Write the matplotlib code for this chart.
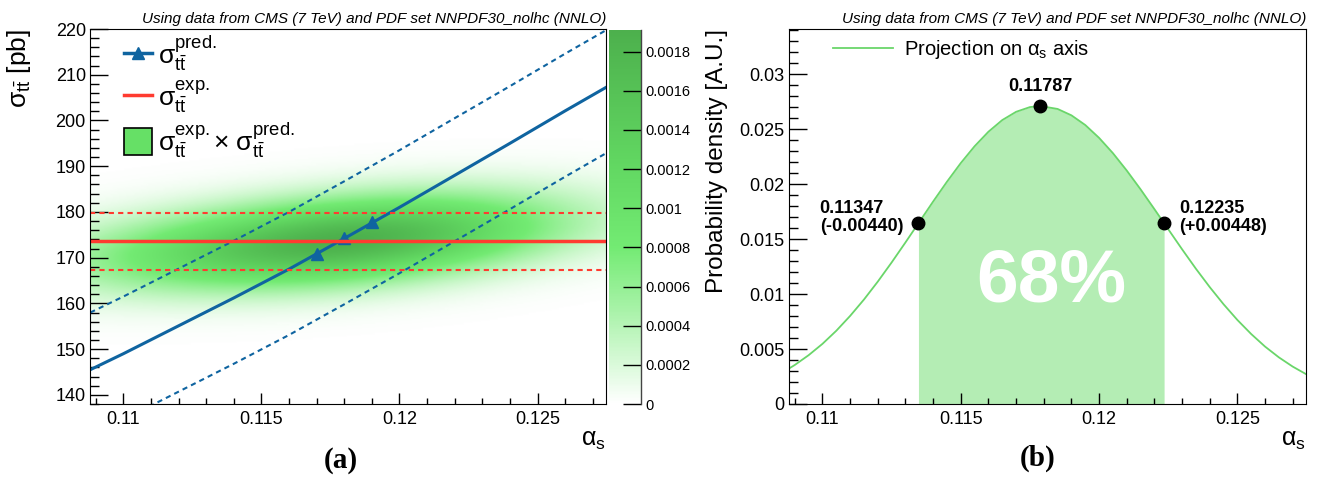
import numpy as np
import matplotlib
matplotlib.use("Agg")
import matplotlib.pyplot as plt
from matplotlib.colors import LinearSegmentedColormap
from matplotlib.lines import Line2D
from matplotlib.patches import Patch
from matplotlib.ticker import MultipleLocator, FormatStrFormatter

plt.rcParams['font.family'] = ['Liberation Sans', 'DejaVu Sans']
plt.rcParams['mathtext.fontset'] = 'custom'
plt.rcParams['mathtext.rm'] = 'Liberation Sans'
plt.rcParams['mathtext.it'] = 'Liberation Sans:italic'
plt.rcParams['mathtext.bf'] = 'Liberation Sans:bold'

# --- data ---
xlim = (0.10879, 0.12748)

# predicted ttbar cross section vs alpha_s (central and band edges)
alpha_pred = [0.1088, 0.110, 0.112, 0.114, 0.116, 0.118, 0.120, 0.122, 0.124, 0.126, 0.1275]
sig_pred = [145.5, 149.0, 155.1, 161.2, 167.5, 174.2, 181.0, 188.0, 195.0, 202.1, 207.3]
sig_pred_up = [158.0, 161.5, 167.6, 173.7, 180.0, 186.7, 193.5, 200.5, 207.5, 214.6, 219.8]
sig_pred_dn = [131.1, 134.6, 140.7, 146.8, 153.1, 159.8, 166.6, 173.6, 180.6, 187.7, 192.9]
alpha_markers = [0.117, 0.118, 0.119]
sig_markers = [170.9, 174.2, 177.7]

# measured cross section
sig_exp = 173.6
sig_exp_up = 179.7
sig_exp_dn = 167.4
z_max = 0.00191  # peak of the joint density

# projection on alpha_s
alpha_proj = [0.1088, 0.109, 0.1095, 0.110, 0.1105, 0.111, 0.1115, 0.112, 0.1125, 0.113,
              0.11347, 0.114, 0.1145, 0.115, 0.1155, 0.116, 0.1165, 0.117, 0.1175, 0.11787,
              0.1185, 0.119, 0.1195, 0.120, 0.1205, 0.121, 0.1215, 0.122, 0.12235, 0.123,
              0.1235, 0.124, 0.1245, 0.125, 0.1255, 0.126, 0.1265, 0.127, 0.1275]
dens_proj = [0.00324, 0.00355, 0.00444, 0.00547, 0.00666, 0.00801, 0.00950, 0.01113, 0.01287, 0.01469,
             0.01644, 0.01841, 0.02021, 0.02191, 0.02344, 0.02476, 0.02582, 0.02657, 0.02700, 0.02710,
             0.02683, 0.02625, 0.02537, 0.02420, 0.02281, 0.02123, 0.01952, 0.01772, 0.01644, 0.01407,
             0.01230, 0.01063, 0.00907, 0.00764, 0.00636, 0.00522, 0.00424, 0.00340, 0.00269]
alpha_best = 0.11787
alpha_lo = 0.11347
alpha_hi = 0.12235
dens_best = 0.02710
dens_edge = 0.01644

title_txt = "Using data from CMS (7 TeV) and PDF set NNPDF30_nolhc (NNLO)"

blue = '#0f64a0'
red = '#ff3b30'
green_line = '#6ad66a'
green_fill = '#b4edb4'

fig = plt.figure(figsize=(13.17, 4.78), dpi=100)
W, H = 1317, 478
ax1 = fig.add_axes([90 / W, 1 - 404 / H, 516 / W, 375 / H])
cax = fig.add_axes([609 / W, 1 - 404 / H, 32 / W, 374 / H])
ax2 = fig.add_axes([789 / W, 1 - 404 / H, 517 / W, 375 / H])


def style_axis(ax):
    ax.xaxis.set_major_locator(MultipleLocator(0.005))
    ax.xaxis.set_minor_locator(MultipleLocator(0.001))
    ax.xaxis.set_major_formatter(FormatStrFormatter('%g'))
    ax.tick_params(which='both', direction='in', top=False, right=False, labelsize=13)
    ax.tick_params(axis='x', which='major', length=8, width=1, pad=5)
    ax.tick_params(axis='x', which='minor', length=4, width=1)
    ax.tick_params(axis='y', which='major', length=13, width=1, pad=3)
    ax.tick_params(axis='y', which='minor', length=6.5, width=1)
    ax.set_title(title_txt, loc='right', fontstyle='italic', fontsize=11, pad=4)
    ax.set_xlabel(r"α$_\mathrm{s}$", loc='right', fontsize=18, labelpad=0)


# ---------- left panel ----------
cmap = LinearSegmentedColormap.from_list('grn', [
    (0.0, (1.0, 1.0, 1.0)),
    (0.1, (0.86, 0.98, 0.86)),
    (0.25, (0.66, 0.95, 0.66)),
    (0.42, (0.45, 0.92, 0.45)),
    (0.65, (0.38, 0.84, 0.38)),
    (1.0, (0.30, 0.69, 0.30))])

ag = np.linspace(xlim[0], xlim[1], 300)
sg = np.linspace(138, 220, 300)
A, S = np.meshgrid(ag, sg)
pc = np.interp(A, alpha_pred, sig_pred)
pw = 1.25 * (np.interp(A, alpha_pred, sig_pred_up) - np.interp(A, alpha_pred, sig_pred_dn)) / 2
ew = 1.1 * (sig_exp_up - sig_exp_dn) / 2
Z = np.exp(-(S - sig_exp) ** 2 / (2 * ew ** 2)) * np.exp(-(S - pc) ** 2 / (2 * pw ** 2))
Z = Z / Z.max() * z_max
im = ax1.imshow(Z, origin='lower', extent=[xlim[0], xlim[1], 138, 220], aspect='auto',
                cmap=cmap, vmin=0, vmax=z_max, interpolation='bilinear')

ax1.plot(alpha_pred, sig_pred, color=blue, lw=2.2)
ax1.plot(alpha_pred, sig_pred_up, color=blue, lw=1.5, ls=(0, (2.5, 2)))
ax1.plot(alpha_pred, sig_pred_dn, color=blue, lw=1.5, ls=(0, (2.5, 2)))
ax1.plot(alpha_markers, sig_markers, ls='none', marker='^', ms=8, color=blue)
ax1.axhline(sig_exp, color=red, lw=2.5)
ax1.axhline(sig_exp_up, color=red, lw=1.5, ls=(0, (2.5, 2)))
ax1.axhline(sig_exp_dn, color=red, lw=1.5, ls=(0, (2.5, 2)))

ax1.set_xlim(*xlim)
ax1.set_ylim(138, 220)
ax1.yaxis.set_major_locator(MultipleLocator(10))
ax1.yaxis.set_minor_locator(MultipleLocator(2))
style_axis(ax1)
ax1.set_ylabel(r"σ$_{\mathrm{t\bar{t}}}$ [pb]", loc='top', fontsize=19, labelpad=16)

leg_handles = [
    Line2D([0], [0], color=blue, lw=2.5, marker='^', ms=8),
    Line2D([0], [0], color=red, lw=2.5),
    Patch(facecolor='#66e066', edgecolor='black', lw=1.2),
]
leg_labels = [
    r"σ$_{\mathrm{t\bar{t}}}^{\mathrm{pred.}}$",
    r"σ$_{\mathrm{t\bar{t}}}^{\mathrm{exp.}}$",
    r"σ$_{\mathrm{t\bar{t}}}^{\mathrm{exp.}}$× σ$_{\mathrm{t\bar{t}}}^{\mathrm{pred.}}$",
]
ax1.legend(leg_handles, leg_labels, loc='upper left', bbox_to_anchor=(0.035, 1.03),
           frameon=False, fontsize=19, handlelength=1.05, handleheight=1.15,
           handletextpad=0.25, labelspacing=0.2, borderaxespad=0.2)

cb = fig.colorbar(im, cax=cax)
cb.set_ticks(np.arange(0, 0.00181, 0.0002))
cb.ax.yaxis.set_major_formatter(FormatStrFormatter('%g'))
cb.ax.tick_params(direction='in', length=13, width=1, labelsize=10.5, pad=3, right=True, left=False)
cb.ax.minorticks_off()
cb.outline.set_visible(False)
cax.plot([1, 1], [0, 1], transform=cax.transAxes, color='#444444', lw=1, clip_on=False)

# ---------- right panel ----------
ax2.fill_between([a for a in alpha_proj if alpha_lo <= a <= alpha_hi],
                 [d for a, d in zip(alpha_proj, dens_proj) if alpha_lo <= a <= alpha_hi],
                 color=green_fill, lw=0)
ax2.plot(alpha_proj, dens_proj, color=green_line, lw=1.3, label=r"Projection on α$_\mathrm{s}$ axis")
ax2.plot([alpha_lo, alpha_best, alpha_hi], [dens_edge, dens_best, dens_edge], ls='none',
         marker='o', ms=9, color='black', zorder=5)
ax2.annotate(f"{alpha_best:.5f}", (alpha_best, dens_best), xytext=(0, 8), textcoords='offset points',
             ha='center', va='bottom', fontsize=13, fontweight='bold')
ax2.annotate(f"{alpha_lo:.5f}\n({alpha_lo - alpha_best:+.5f})", (alpha_lo, dens_edge), xytext=(-11, 4),
             textcoords='offset points', ha='right', va='center', multialignment='left',
             fontsize=13, fontweight='bold', linespacing=1.05)
ax2.annotate(f"{alpha_hi:.5f}\n({alpha_hi - alpha_best:+.5f})", (alpha_hi, dens_edge), xytext=(11, 4),
             textcoords='offset points', ha='left', va='center', multialignment='left',
             fontsize=13, fontweight='bold', linespacing=1.05)
ax2.text(0.11826, 0.00928, "68%", ha='center', va='baseline', color='white',
         fontsize=54, fontweight='bold')

ax2.set_xlim(*xlim)
ax2.set_ylim(0, 0.0341)
ax2.yaxis.set_major_locator(MultipleLocator(0.005))
ax2.yaxis.set_minor_locator(MultipleLocator(0.001))
ax2.yaxis.set_major_formatter(FormatStrFormatter('%g'))
style_axis(ax2)
ax2.set_ylabel("Probability density [A.U.]", loc='top', fontsize=17.5, labelpad=8)
ax2.legend(loc='upper left', bbox_to_anchor=(0.05, 1.025), frameon=False, fontsize=14.5,
           handlelength=3.0, handletextpad=0.55)

fig.text(341 / W, 1 - 460 / H, "(a)", ha='center', va='center', fontsize=21,
         fontweight='bold', family='Liberation Serif')
fig.text(1038 / W, 1 - 458 / H, "(b)", ha='center', va='center', fontsize=21,
         fontweight='bold', family='Liberation Serif')

fig.savefig("out.png", dpi=100)
